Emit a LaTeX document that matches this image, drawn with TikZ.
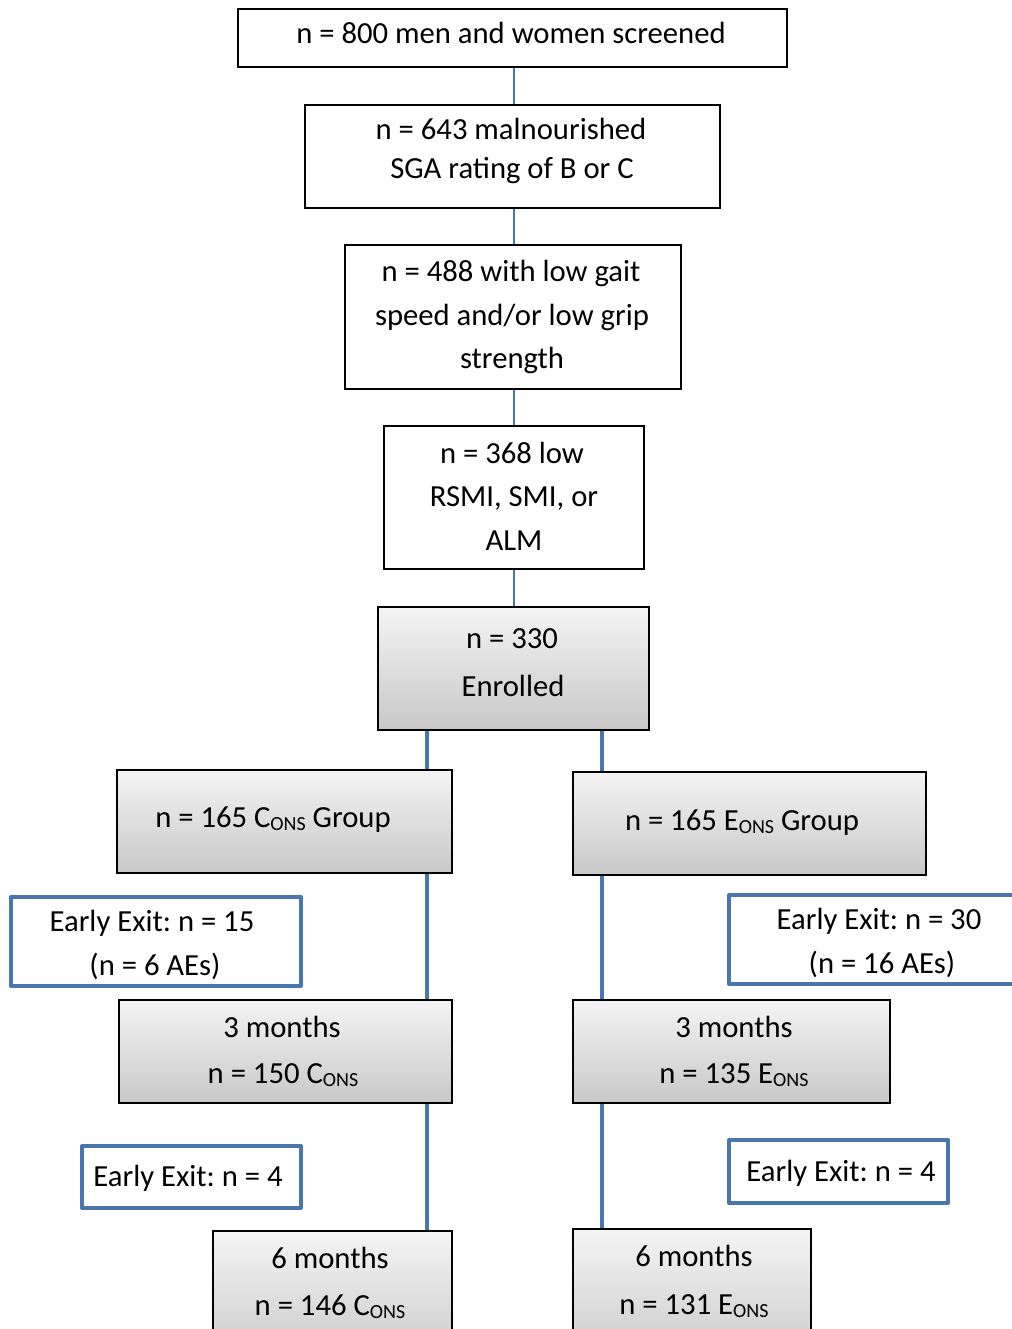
\documentclass[tikz,border=0pt]{standalone}
\usepackage{fontspec}
\setmainfont{Carlito}
\usetikzlibrary{fit}
\definecolor{lineblue}{RGB}{74,118,175}
\definecolor{gtop}{RGB}{244,244,244}
\definecolor{gbot}{RGB}{200,200,200}
\newcommand\subons{\raisebox{-2.5pt}{\fontsize{15}{15}\selectfont ONS}}
\frenchspacing
\begin{document}
\begin{tikzpicture}[x=0.75pt,y=-0.75pt,
  box/.style={draw=black,line width=1pt,fill=white,inner sep=0pt,rectangle},
  gbox/.style={draw=black,line width=1.5pt,top color=gtop,bottom color=gbot,inner sep=0pt,rectangle},
  ebox/.style={draw=lineblue,line width=3pt,fill=white,inner sep=0pt,rectangle,line join=round},
  conn/.style={draw=lineblue,line width=2.2pt},
  conn2/.style={draw=lineblue,line width=3pt},
  lbl/.style={anchor=base,inner sep=0pt,font=\fontsize{23}{27}\selectfont}]
\useasboundingbox (0,0) rectangle (1012,1329);
\fill[white] (0,0) rectangle (1012,1329);
\clip (0,0) rectangle (1012,1329);
% boxes
\node[box,fit={(238,9) (787,67)}] (b1) {};
\node[box,fit={(305,105) (720,208)}] (b2) {};
\node[box,fit={(345,245) (681,389)}] (b3) {};
\node[box,fit={(384,426) (644,569)}] (b4) {};
\node[gbox,fit={(378,607) (649,730)}] (b5) {};
\node[gbox,fit={(117,770) (452,873)}] (b6) {};
\node[gbox,fit={(573,772) (926,875)}] (b7) {};
\node[ebox,fit={(11,897) (301,986)}] (e1) {};
\node[gbox,fit={(119,1000) (452,1103)}] (m3L) {};
\node[ebox,fit={(729,895) (1030,984)}] (e2) {};
\node[gbox,fit={(573,1000) (890,1103)}] (m3R) {};
\node[ebox,fit={(82,1146) (301,1208)}] (e3) {};
\node[ebox,fit={(729,1140) (948,1203)}] (e4) {};
\node[gbox,fit={(213,1231) (452,1370)}] (m6L) {};
\node[gbox,fit={(573,1229) (811,1370)}] (m6R) {};
% connector columns
\coordinate (mx) at (514,0);
\coordinate (lx) at (427,0);
\coordinate (rx) at (602,0);
\draw[conn] (b1.south -| mx) -- (b2.north -| mx);
\draw[conn] (b2.south -| mx) -- (b3.north -| mx);
\draw[conn] (b3.south -| mx) -- (b4.north -| mx);
\draw[conn] (b4.south -| mx) -- (b5.north -| mx);
\draw[conn2] (b5.south -| lx) -- (b6.north -| lx);
\draw[conn2] (b5.south -| rx) -- (b7.north -| rx);
\draw[conn2] (b6.south -| lx) -- (m3L.north -| lx);
\draw[conn2] (m3L.south -| lx) -- (m6L.north -| lx);
\draw[conn2] (b7.south -| rx) -- (m3R.north -| rx);
\draw[conn2] (m3R.south -| rx) -- (m6R.north -| rx);
% labels
\node[lbl] (t1) at (511,43) {n = 800 men and women screened};
\node[lbl] (t2a) at (511,139) {n = 643 malnourished};
\node[lbl] (t2b) at (512,178) {SGA rating of B or C};
\node[lbl] (t3a) at (511,281) {n = 488 with low gait};
\node[lbl] (t3b) at (512,325) {speed and/or low grip};
\node[lbl] (t3c) at (512,368) {strength};
\node[lbl] (t4a) at (512,463) {n = 368 low};
\node[lbl] (t4b) at (514,506) {RSMI, SMI, or};
\node[lbl] (t4c) at (514,550) {ALM};
\node[lbl] (t5a) at (512,648) {n = 330};
\node[lbl] (t5b) at (513,696) {Enrolled};
\node[lbl] (t6) at (273,827) {n = 165 C\subons{} Group};
\node[lbl] (t7) at (742,830) {n = 165 E\subons{} Group};
\node[lbl] (te1a) at (152,931) {Early Exit: n = 15};
\node[lbl] (te1b) at (155,975) {(n = 6 AEs)};
\node[lbl] (tm3La) at (282,1037) {3 months};
\node[lbl] (tm3Lb) at (283,1083) {n = 150 C\subons};
\node[lbl] (te2a) at (879,929) {Early Exit: n = 30};
\node[lbl] (te2b) at (882,973) {(n = 16 AEs)};
\node[lbl] (tm3Ra) at (734,1037) {3 months};
\node[lbl] (tm3Rb) at (734,1083) {n = 135 E\subons};
\node[lbl] (te3) at (188,1186) {Early Exit: n = 4};
\node[lbl] (te4) at (841,1181) {Early Exit: n = 4};
\node[lbl] (tm6La) at (330,1268) {6 months};
\node[lbl] (tm6Lb) at (330,1315) {n = 146 C\subons};
\node[lbl] (tm6Ra) at (694,1266) {6 months};
\node[lbl] (tm6Rb) at (694,1314) {n = 131 E\subons};
\end{tikzpicture}
\end{document}
